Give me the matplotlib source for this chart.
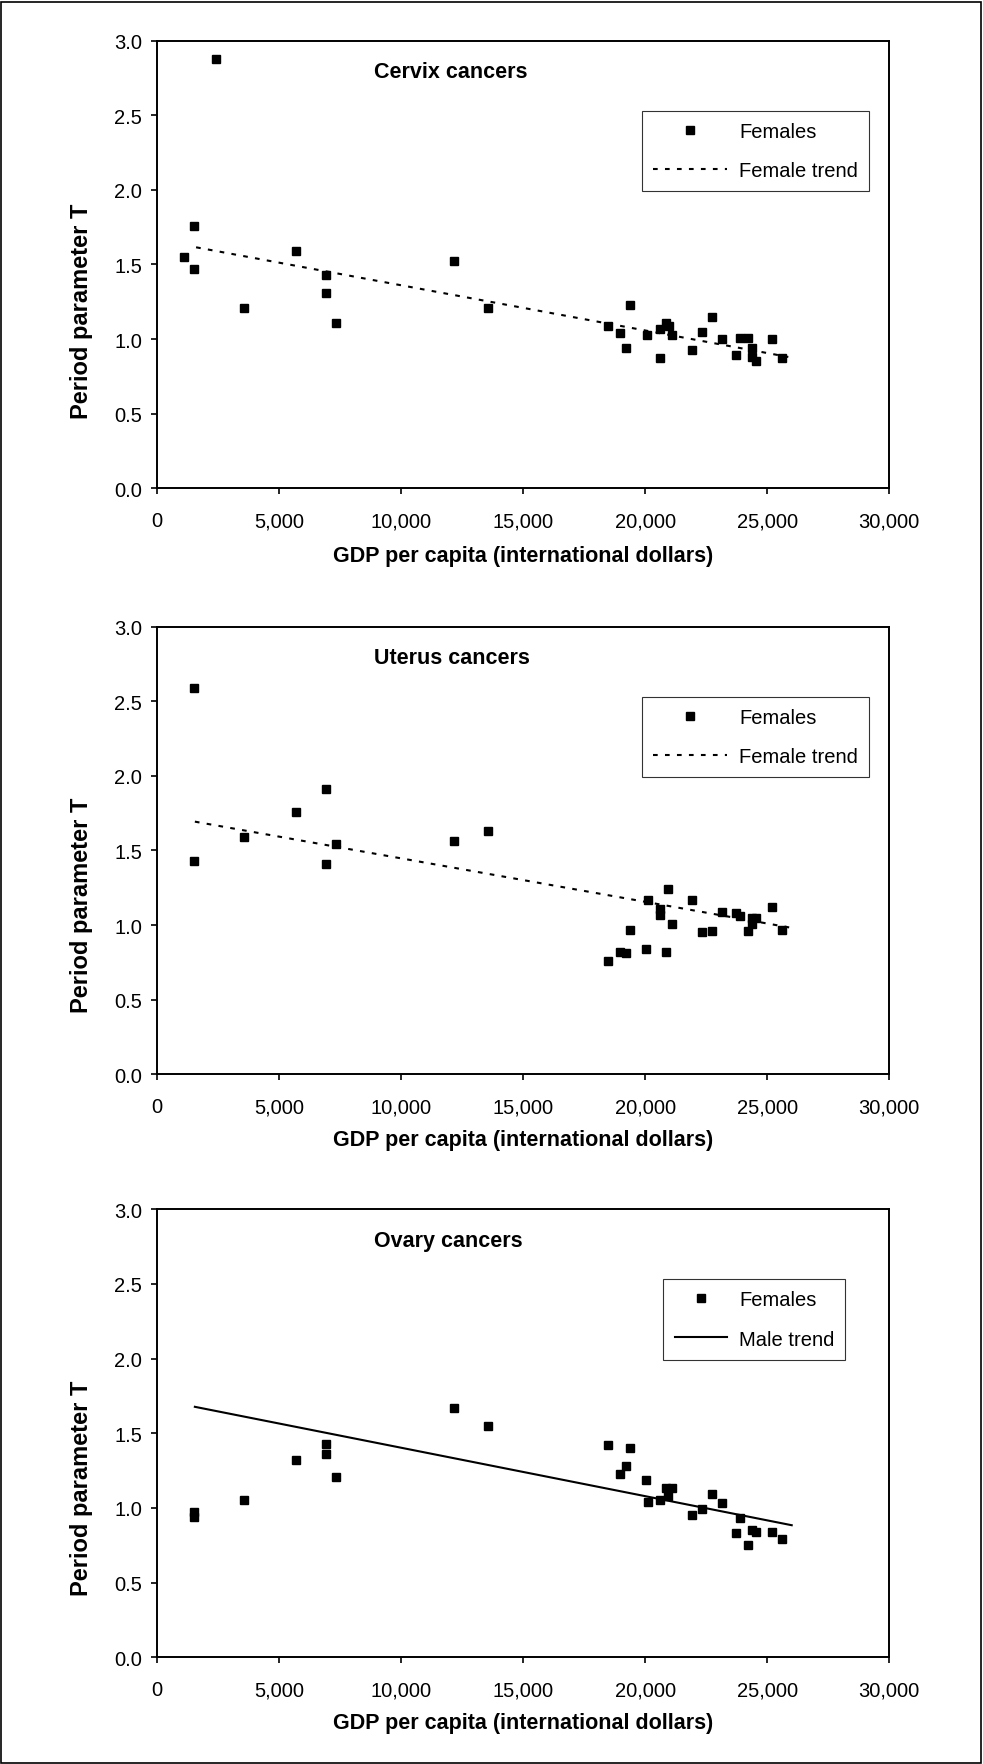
import matplotlib
matplotlib.use("Agg")
import matplotlib.pyplot as plt
from matplotlib.patches import Rectangle
from matplotlib.ticker import FuncFormatter

plt.rcParams['font.family'] = ['Liberation Sans', 'DejaVu Sans']

# GDP per capita (international dollars) and period parameter T
cervix_gdp = [1080, 1520, 1520, 2420, 3560, 5670, 6920, 6920, 7310, 12160, 13550,
              18480, 18970, 19220, 19380, 20070, 20610, 20610, 20860, 20960, 21100,
              21920, 22330, 22740, 23150, 23720, 23890, 24220, 24380, 24380, 24550,
              25200, 25610]
cervix_t = [1.55, 1.76, 1.47, 2.88, 1.21, 1.59, 1.43, 1.31, 1.11, 1.52, 1.21,
            1.09, 1.04, 0.94, 1.23, 1.03, 1.07, 0.87, 1.11, 1.09, 1.03,
            0.93, 1.05, 1.15, 1.00, 0.89, 1.01, 1.01, 0.94, 0.88, 0.85,
            1.00, 0.87]

uterus_gdp = [1520, 1520, 3560, 5670, 6920, 6920, 7310, 12160, 13550,
              18480, 18970, 19220, 19380, 20040, 20120, 20610, 20610, 20860, 20940,
              21100, 21920, 22330, 22740, 23150, 23720, 23900, 24220, 24380, 24380,
              24550, 25200, 25610]
uterus_t = [2.59, 1.43, 1.59, 1.76, 1.91, 1.41, 1.54, 1.56, 1.63,
            0.76, 0.82, 0.81, 0.97, 0.84, 1.17, 1.11, 1.07, 0.82, 1.24,
            1.01, 1.17, 0.95, 0.96, 1.09, 1.08, 1.06, 0.96, 1.01, 1.05,
            1.05, 1.12, 0.97]

ovary_gdp = [1520, 1520, 3560, 5670, 6920, 6920, 7310, 12160, 13550,
             18480, 18970, 19220, 19380, 20040, 20120, 20610, 20860, 20940, 21100,
             21920, 22330, 22740, 23150, 23720, 23890, 24220, 24380, 24550, 25200,
             25610]
ovary_t = [0.97, 0.94, 1.05, 1.32, 1.43, 1.36, 1.21, 1.67, 1.55,
           1.42, 1.23, 1.28, 1.40, 1.19, 1.04, 1.05, 1.13, 1.08, 1.13,
           0.95, 0.99, 1.09, 1.03, 0.83, 0.93, 0.75, 0.85, 0.84, 0.84,
           0.79]

# trend line end points
cervix_trend_gdp = [1590, 25860]
cervix_trend_t = [1.615, 0.880]
uterus_trend_gdp = [1540, 26000]
uterus_trend_t = [1.693, 0.981]
ovary_trend_gdp = [1540, 26000]
ovary_trend_t = [1.677, 0.884]

titles = ['Cervix cancers', 'Uterus cancers', 'Ovary cancers']
trend_labels = ['Female trend', 'Female trend', 'Male trend']
x_ticks = [0, 5000, 10000, 15000, 20000, 25000, 30000]
y_ticks = [0.0, 0.5, 1.0, 1.5, 2.0, 2.5, 3.0]

panels = [
    (cervix_gdp, cervix_t, cervix_trend_gdp, cervix_trend_t),
    (uterus_gdp, uterus_t, uterus_trend_gdp, uterus_trend_t),
    (ovary_gdp, ovary_t, ovary_trend_gdp, ovary_trend_t),
]

fig = plt.figure(figsize=(9.83, 17.65), dpi=100)
fig.patch.set_facecolor('white')

# axes boxes in figure fraction: left, bottom, width, height
boxes = [
    [0.1600, 0.7228, 0.7447, 0.2536],
    [0.1600, 0.3908, 0.7447, 0.2536],
    [0.1600, 0.0605, 0.7447, 0.2538],
]
trend_styles = [(0, (2.25, 3.5)), (0, (2.25, 3.5)), '-']
legend_x = [0.6617, 0.6617, 0.6915]
legend_hl = [3.7, 3.7, 2.6]
ylabel_y = [0.397, 0.379, 0.379]
xlabel_y = [-0.1506, -0.146, -0.145]

for i, (gx, gt, tx, tt) in enumerate(panels):
    ax = fig.add_axes(boxes[i])
    ax.plot(gx, gt, linestyle='none', marker='s', markersize=5.3,
            color='black', label='Females')
    ax.plot(tx, tt, linestyle=trend_styles[i], color='black', lw=1.5,
            label=trend_labels[i])

    ax.set_xlim(0, 30000)
    ax.set_ylim(0, 3.0)
    ax.set_xticks(x_ticks)
    ax.set_yticks(y_ticks)
    ax.xaxis.set_major_formatter(FuncFormatter(lambda v, p: f'{int(v):,}'))
    ax.yaxis.set_major_formatter(FuncFormatter(lambda v, p: f'{v:.1f}'))
    ax.tick_params(axis='both', direction='out', length=4, width=1.2,
                   labelsize=14.5, colors='black')
    ax.tick_params(axis='x', pad=12.5)
    ax.tick_params(axis='y', pad=7)
    for s in ax.spines.values():
        s.set_linewidth(1.4)
        s.set_color('black')

    ax.text(0.296, 0.9307, titles[i], transform=ax.transAxes, fontsize=15.5,
            fontweight='bold', ha='left', va='center')

    ax.set_xlabel('GDP per capita (international dollars)', fontsize=15.5,
                  fontweight='bold', va='center')
    ax.xaxis.set_label_coords(0.5, xlabel_y[i])
    ax.set_ylabel('Period parameter T', fontsize=17, fontweight='bold')
    ax.yaxis.set_label_coords(-0.0878, ylabel_y[i])

    leg = ax.legend(loc='upper left', bbox_to_anchor=(legend_x[i], 0.8436),
                    borderaxespad=0, fontsize=14.5, frameon=True, fancybox=False,
                    handlelength=legend_hl[i], handletextpad=0.6,
                    labelspacing=1.0, borderpad=0.55)
    leg.get_frame().set_edgecolor('black')
    leg.get_frame().set_linewidth(0.8)

# thin frame round the whole picture
fig.add_artist(Rectangle((0.0008, 0.0008), 0.9975, 0.9975, transform=fig.transFigure,
                         fill=False, edgecolor='black', lw=1.2))

plt.savefig('out.png', dpi=100, facecolor='white')
